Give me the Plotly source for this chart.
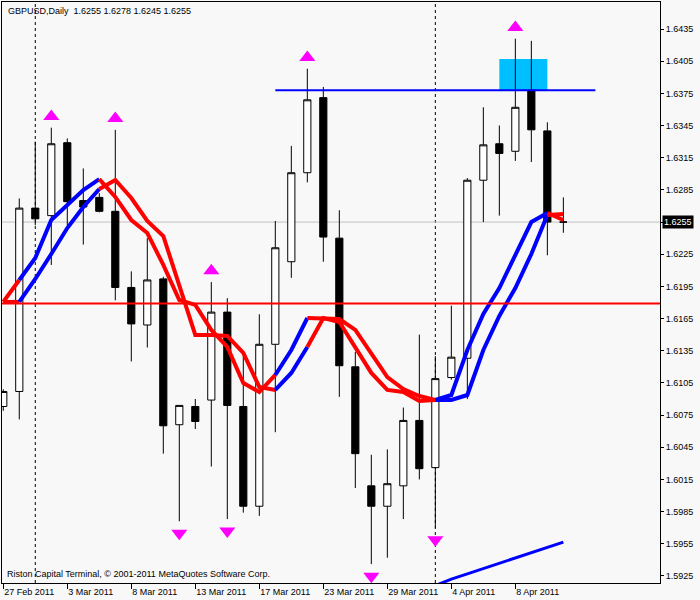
import plotly.graph_objects as go

# ---------------- data ----------------
bars = list(range(36))
opens  = [1.6083, 1.6097, 1.6268, 1.6261, 1.6329, 1.6275, 1.6278, 1.6265, 1.6194, 1.6159,
          1.6202, 1.6066, 1.6083, 1.6089, 1.6171, 1.6083, 1.5990, 1.6141, 1.6218, 1.6301,
          1.6371, 1.6240, 1.6120, 1.6009, 1.5990, 1.6009, 1.6070, 1.6026, 1.6110, 1.6128,
          1.6294, 1.6328, 1.6321, 1.6378, 1.6340, 1.6255]
highs  = [1.6099, 1.6277, 1.6330, 1.6343, 1.6333, 1.6305, 1.6282, 1.6341, 1.6209, 1.6240,
          1.6204, 1.6084, 1.6090, 1.6199, 1.6184, 1.6134, 1.6169, 1.6256, 1.6326, 1.6398,
          1.6381, 1.6266, 1.6134, 1.6038, 1.6043, 1.6082, 1.6150, 1.6130, 1.6177, 1.6296,
          1.6362, 1.6345, 1.6426, 1.6424, 1.6348, 1.6278]
lows   = [1.6079, 1.6071, 1.6252, 1.6215, 1.6252, 1.6234, 1.6264, 1.6182, 1.6125, 1.6138,
          1.6039, 1.5976, 1.6062, 1.6027, 1.5978, 1.5984, 1.5981, 1.6059, 1.6203, 1.6292,
          1.6218, 1.6092, 1.6007, 1.5936, 1.5942, 1.5978, 1.6015, 1.5970, 1.6108, 1.6090,
          1.6255, 1.6261, 1.6312, 1.6311, 1.6224, 1.6245]
closes = [1.6097, 1.6268, 1.6258, 1.6328, 1.6274, 1.6269, 1.6265, 1.6194, 1.6160, 1.6201,
          1.6065, 1.6084, 1.6069, 1.6171, 1.6084, 1.5990, 1.6141, 1.6231, 1.6301, 1.6369,
          1.6241, 1.6121, 1.6039, 1.5990, 1.6011, 1.6070, 1.6025, 1.6109, 1.6129, 1.6294,
          1.6327, 1.6319, 1.6362, 1.6341, 1.6255, 1.6255]

line_a = [1.61805, 1.62010, 1.62215, 1.62569, 1.62709, 1.62849, 1.62951, 1.62784, 1.62569, 1.62448,
          1.62150, 1.61823, 1.61777, 1.61544, 1.61385, 1.61049, 1.60965, 1.61124, 1.61357, 1.61655,
          1.61655, 1.61646, 1.61544, 1.61329, 1.61105, 1.60993, 1.60928, 1.60891, 1.60937, 1.61357,
          1.61693, 1.61935, 1.62243, 1.62550, 1.62634, 1.62569]
line_b = [1.61805, 1.61805, 1.62019, 1.62252, 1.62494, 1.62690, 1.62858, 1.62942, 1.62774, 1.62560,
          1.62420, 1.61972, 1.61497, 1.61497, 1.61488, 1.61329, 1.61012, 1.60984, 1.61143, 1.61385,
          1.61655, 1.61618, 1.61385, 1.61143, 1.60984, 1.60965, 1.60882, 1.60891, 1.60891, 1.60937,
          1.61357, 1.61674, 1.61935, 1.62252, 1.62616, 1.62625]
# trend state of each segment i -> i+1 (b = up/blue, r = down/red)
trend = "rbbbbbrrrrrrrrrrrbbrrrrrrrrbbbbbbbr"

slow_bars = [27, 28, 29, 30, 31, 32, 33, 34, 35]
slow_ma   = [1.59160, 1.59220, 1.59269, 1.59318, 1.59365, 1.59413, 1.59461, 1.59513, 1.59565]

fractal_up   = [3, 7, 13, 19, 32]
fractal_down = [11, 14, 23, 27]

separators = [2, 27]
red_level = 1.6179
blue_level = 1.6378
blue_from, blue_to = 17, 37
rect_x = (31, 34)
rect_y = (1.6378, 1.6407)
bid = 1.6255

xtick_idx = [0, 4, 8, 12, 16, 20, 24, 28, 32]
xtick_txt = ["27 Feb 2011", "3 Mar 2011", "8 Mar 2011", "13 Mar 2011", "17 Mar 2011",
             "23 Mar 2011", "29 Mar 2011", "4 Apr 2011", "8 Apr 2011"]
ytick_vals = [1.5925, 1.5955, 1.5985, 1.6015, 1.6045, 1.6075, 1.6105, 1.6135, 1.6165,
              1.6195, 1.6225, 1.6255, 1.6285, 1.6315, 1.6345, 1.6375, 1.6405, 1.6435]

title_txt = "GBPUSD,Daily\u00a0 1.6255 1.6278 1.6245 1.6255"
footer_txt = "Riston Capital Terminal, \u00a9 2001-2011 MetaQuotes Software Corp."

FONT = "Liberation Sans"
BG = "#F8F8F8"
COL = {"b": "#0000FF", "r": "#FF0000"}

# ---------------- figure ----------------
fig = go.Figure()

fig.add_trace(go.Candlestick(
    x=bars, open=opens, high=highs, low=lows, close=closes,
    increasing=dict(fillcolor="white", line=dict(color="black", width=1)),
    decreasing=dict(fillcolor="black", line=dict(color="black", width=1)),
    whiskerwidth=0, hoverinfo="skip", showlegend=False))


def add_colored(vals):
    n = len(trend)
    i = 0
    while i < n:
        j = i
        while j + 1 < n and trend[j + 1] == trend[i]:
            j += 1
        fig.add_trace(go.Scatter(x=bars[i:j + 2], y=vals[i:j + 2], mode="lines",
                                 line=dict(color=COL[trend[i]], width=4),
                                 hoverinfo="skip", showlegend=False))
        i = j + 1


add_colored(line_b)
add_colored(line_a)

fig.add_trace(go.Scatter(x=slow_bars, y=slow_ma, mode="lines",
                         line=dict(color="#0000FF", width=3),
                         hoverinfo="skip", showlegend=False))

up_off, dn_off = 0.00105, 0.00112
fig.add_trace(go.Scatter(x=fractal_up, y=[highs[i] + up_off for i in fractal_up],
                         mode="markers", marker=dict(symbol="triangle-up", size=14, color="#FF00FF"),
                         hoverinfo="skip", showlegend=False, cliponaxis=False))
fig.add_trace(go.Scatter(x=fractal_down, y=[lows[i] - dn_off for i in fractal_down],
                         mode="markers", marker=dict(symbol="triangle-down", size=14, color="#FF00FF"),
                         hoverinfo="skip", showlegend=False, cliponaxis=False))

shapes = []
shapes.append(dict(type="rect", xref="x", yref="y", x0=rect_x[0], x1=rect_x[1],
                   y0=rect_y[0], y1=rect_y[1], fillcolor="#00BFFF",
                   line=dict(width=0), layer="below"))
for s in separators:
    shapes.append(dict(type="line", xref="x", yref="paper", x0=s, x1=s, y0=0, y1=1,
                       line=dict(color="black", width=1, dash="3px,3px"), layer="below"))
shapes.append(dict(type="line", xref="paper", yref="y", x0=0, x1=1, y0=bid, y1=bid,
                   line=dict(color="#C0C0C0", width=1), layer="below"))
shapes.append(dict(type="line", xref="paper", yref="y", x0=0, x1=1, y0=red_level, y1=red_level,
                   line=dict(color="#FF0000", width=2)))
shapes.append(dict(type="line", xref="x", yref="y", x0=blue_from, x1=blue_to,
                   y0=blue_level, y1=blue_level, line=dict(color="#0000FF", width=2)))

annotations = [
    dict(text=title_txt, xref="paper", yref="paper", x=0, y=0.9845, xanchor="left",
         yanchor="middle", xshift=4, showarrow=False, font=dict(family=FONT, size=9, color="black")),
    dict(text=footer_txt, xref="paper", yref="paper", x=0, y=0.0155, xanchor="left",
         yanchor="middle", xshift=3, showarrow=False, font=dict(family=FONT, size=9, color="black")),
    dict(text="%.4f" % bid, xref="paper", yref="y", x=1, y=bid, xanchor="left",
         yanchor="middle", xshift=2, showarrow=False, bgcolor="black", borderpad=1,
         font=dict(family=FONT, size=9, color="white")),
]

ytick_txt = ["" if abs(v - bid) < 1e-9 else "%.4f" % v for v in ytick_vals]

fig.update_layout(
    width=700, height=600,
    margin=dict(l=2, r=40, t=2, b=17),
    paper_bgcolor=BG, plot_bgcolor=BG,
    showlegend=False, hovermode=False,
    boxgap=0.36,
    shapes=shapes, annotations=annotations,
    xaxis=dict(range=[-0.08, 41.04], tickvals=xtick_idx, ticktext=xtick_txt,
               ticks="outside", ticklen=5, tickcolor="black", tickwidth=1,
               ticklabelposition="outside right",
               showgrid=False, zeroline=False, showline=True, linecolor="black",
               linewidth=1, mirror=True, rangeslider=dict(visible=False),
               tickfont=dict(family=FONT, size=9, color="black")),
    yaxis=dict(side="right", range=[1.59184, 1.64602], tickvals=ytick_vals,
               ticktext=ytick_txt, ticks="outside", ticklen=3, tickcolor="black",
               showgrid=False, zeroline=False, showline=True, linecolor="black",
               linewidth=1, mirror=True,
               tickfont=dict(family=FONT, size=9, color="black")),
)

fig.write_html("out.html", config={"displayModeBar": False},
               post_script="document.body.style.margin='0';document.body.style.overflow='hidden';")
